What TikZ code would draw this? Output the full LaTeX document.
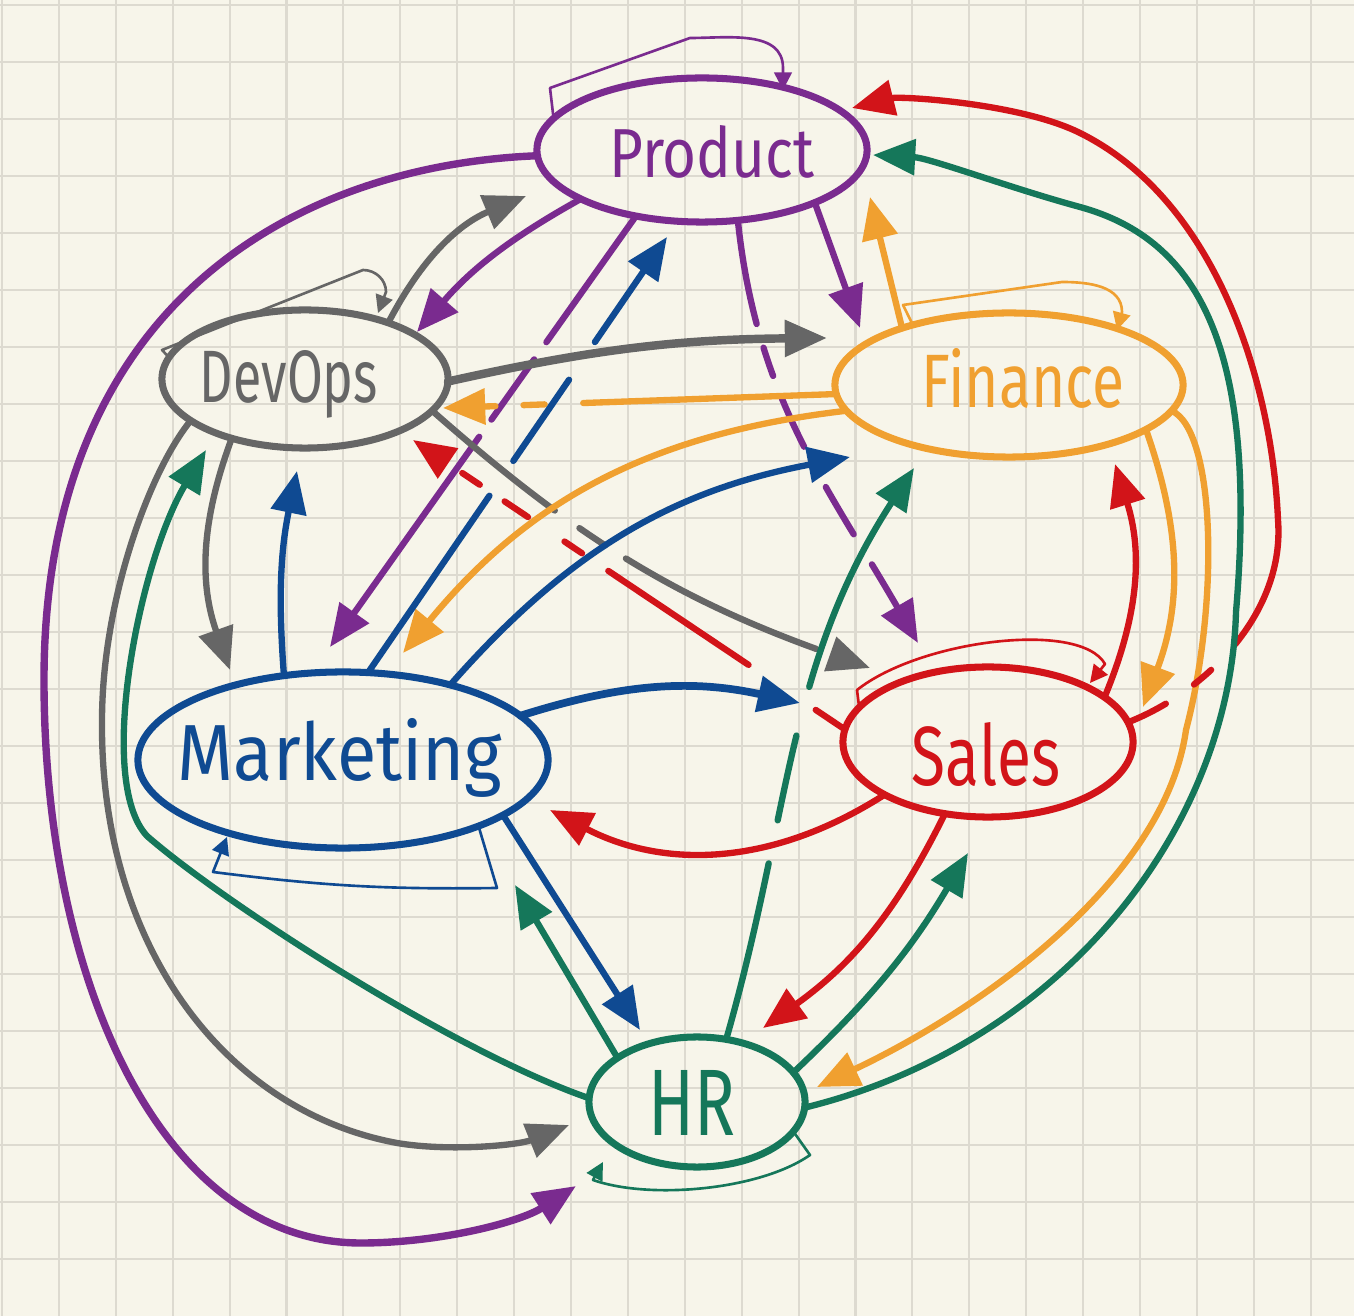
\documentclass[tikz,border=0pt]{standalone}
\usepackage{fontspec}
\setmainfont{Fira Sans}
\usepackage{graphicx}
\usetikzlibrary{arrows.meta,calc,shapes.geometric}
\definecolor{cpur}{HTML}{7A2B8F}
\definecolor{cgry}{HTML}{666666}
\definecolor{corg}{HTML}{F0A030}
\definecolor{cblu}{HTML}{0F4A92}
\definecolor{cred}{HTML}{D21419}
\definecolor{cgrn}{HTML}{15775A}
\definecolor{cbg}{HTML}{F7F5EA}
\definecolor{cgrid}{HTML}{DDDAD0}
\newcommand{\nodetext}[5]{\makebox[0pt]{\hspace*{#1}\raisebox{#2}[0pt][0pt]{\resizebox{#3}{#4}{#5}}}}
\tikzset{
  ent/.style={ellipse, draw=#1, line width=2pt, inner sep=0pt, outer sep=0pt, text=#1},
  edg/.style={draw=#1, line width=1.8pt, line cap=round, line join=round},
  selfln/.style={draw=#1, line width=0.75pt, line cap=round, line join=round},
  bigtip/.style={-{Triangle[length=12pt,width=10pt]}},
  smalltip/.style={-{Triangle[length=5pt,width=5pt]}},
  gridln/.style={draw=cgrid, line width=0.6pt}
}
\begin{document}
\begin{tikzpicture}[x=0.01cm,y=-0.01cm]
\useasboundingbox (0,0) rectangle (1354,1316);
\fill[cbg] (0,0) rectangle (1354,1316);
\foreach \i in {0,...,23} \draw[gridln] ({2+56.9*\i},0) -- ({2+56.9*\i},1316);
\foreach \j in {0,...,22} \draw[gridln] (0,{5+57*\j}) -- (1354,{5+57*\j});

% nodes
\node[ent=cpur, minimum width=3.30cm, minimum height=1.44cm] (P) at (702,150) {\nodetext{0.20cm}{-0.27cm}{2.05cm}{0.52cm}{Product}};
\node[ent=cgry, minimum width=2.86cm, minimum height=1.38cm] (D) at (305,379) {\nodetext{-0.32cm}{-0.23cm}{1.78cm}{0.52cm}{DevOps}};
\node[ent=corg, minimum width=3.48cm, minimum height=1.44cm] (F) at (1009,385) {\nodetext{0.28cm}{-0.22cm}{2.03cm}{0.59cm}{Finance}};
\node[ent=cblu, minimum width=4.10cm, minimum height=1.76cm] (M) at (343,760) {\nodetext{-0.06cm}{-0.20cm}{3.24cm}{0.62cm}{Marketing}};
\node[ent=cred, minimum width=2.90cm, minimum height=1.50cm] (S) at (988,742) {\nodetext{-0.04cm}{-0.43cm}{1.48cm}{0.63cm}{Sales}};
\node[ent=cgrn, minimum width=2.16cm, minimum height=1.30cm] (H) at (697,1102) {\nodetext{-0.10cm}{-0.33cm}{0.87cm}{0.65cm}{HR}};

% Product (purple)
\draw[edg=cpur, bigtip] (P.-158) to[bend right=10] ($(D)+(112,-47)$);
\draw[edg=cpur, bigtip, dash pattern=on 44pt off 6pt on 21pt off 6pt on 300pt] (P.-135.8) -- ($(M)+(-13,-113)$);
\draw[edg=cpur, bigtip] (P.-25.6) -- ($(F)+(-149,-57)$);
\draw[edg=cpur, bigtip, dash pattern=on 30pt off 7pt on 8.5pt off 7pt on 15pt off 13pt on 15.6pt off 10pt on 100pt] (P.-63.4) to[out=-84,in=120] ($(S)+(-70,-99)$);
\draw[edg=cpur, bigtip, line width=2.1pt] (P.182) .. controls (300,165) and (44,300) .. (44,680) .. controls (44,980) and (161,1243) .. (361,1243) .. controls (440,1243) and (520,1222) .. ($(H)+(-121,84)$);
\draw[selfln=cpur, smalltip] (P.168) -- (550,88) -- (690,38) to[out=0,in=90] (783,68) -- ($(P)+(81,-60)$);

% DevOps (gray)
\draw[edg=cgry, bigtip] (D.34.3) to[bend left=20] ($(P)+(-176,46)$);
\draw[edg=cgry, bigtip, line width=2.4pt] (D.-1) to[bend left=6] ($(F)+(-182,-47)$);
\draw[edg=cgry, bigtip, dash pattern=on 45pt off 8.6pt on 8.8pt off 7pt on 60pt off 7pt on 50pt] (D.-14.3) to[bend right=11] ($(S)+(-118,-74)$);
\draw[edg=cgry, bigtip] (D.-141.7) to[bend right=20] ($(M)+(-113,-90)$);
\draw[edg=cgry, bigtip] (D.200) .. controls (150,470) and (102,600) .. (102,721) .. controls (100,940) and (220,1110) .. (397,1143) .. controls (450,1152) and (519,1145) .. ($(H)+(-128,23)$);
\draw[selfln=cgry, smalltip] (D.171) -- (162,350) -- (363,270) to[out=0,in=90] (386,292) -- ($(D)+(73,-66)$);

% Finance (orange)
\draw[edg=corg, bigtip] (F.152.6) -- ($(P)+(168,47)$);
\draw[edg=corg, bigtip, dash pattern=on 72pt off 11pt on 6pt off 8pt on 40pt] (F.183.3) -- ($(D)+(138,29)$);
\draw[edg=corg, bigtip] (F.189.5) to[bend right=22] ($(M)+(60,-107)$);
\draw[edg=corg, bigtip] (F.-18.3) to[bend left=20] ($(S)+(155,-35)$);
\draw[edg=corg, bigtip] (F.-9.5) .. controls (1215,430) and (1220,600) .. (1186,730) .. controls (1165,880) and (980,1010) .. ($(H)+(120,-15)$);
\draw[selfln=corg, smalltip] (F.148) -- (903,305) -- (1062,282) to[out=0,in=90] (1122,312) -- ($(F)+(108,-55)$);

% Marketing (blue)
\draw[edg=cblu, bigtip] (M.125.2) to[bend left=8] ($(D)+(-8,92)$);
\draw[edg=cblu, bigtip, dash pattern=on 61pt off 12pt on 28pt off 13pt on 100pt] (M.74.7) -- ($(P)+(-35,87)$);
\draw[edg=cblu, bigtip] (M.35.8) to[bend left=19] ($(F)+(-159,72)$);
\draw[edg=cblu, bigtip, line width=2.2pt] (M.14.1) to[bend left=15] ($(S)+(-188,-39)$);
\draw[edg=cblu, bigtip] (M.-19.9) -- ($(H)+(-57,-72)$);
\draw[selfln=cblu, smalltip] (M.-26) -- (497,888) to[bend left=4] (213,872) -- ($(M)+(-116,77)$);

% Sales (red)
\draw[edg=cred, bigtip, dash pattern=on 12pt off 9.7pt on 6.4pt off 10pt on 400pt] (S.8) .. controls (1210,690) and (1285,610) .. (1278,520) .. controls (1272,380) and (1215,200) .. (1080,133) .. controls (1020,103) and (900,96) .. ($(P)+(150,-42)$);
\draw[edg=cred, bigtip] (S.21.8) to[bend right=20] ($(F)+(106,79)$);
\draw[edg=cred, bigtip, dash pattern=on 10pt off 23pt on 48pt off 9pt on 6pt off 12.5pt on 8pt off 8.5pt on 6pt off 30pt] (S.175) -- ($(D)+(108,61)$);
\draw[edg=cred, bigtip] (S.207) to[bend left=30] ($(M)+(207,50)$);
\draw[edg=cred, bigtip] (S.-121.2) to[bend left=14] ($(H)+(66,-74)$);
\draw[selfln=cred, smalltip] (S.165) -- (857,690) .. controls (920,640) and (1080,620) .. (1105,664) -- ($(S)+(102,-59)$);

% HR (green)
\draw[edg=cgrn, bigtip] (H.178) .. controls (450,1050) and (220,900) .. (147,836) .. controls (95,780) and (140,560) .. ($(D)+(-99,71)$);
\draw[edg=cgrn, bigtip] (H.151.8) -- ($(M)+(172,125)$);
\draw[edg=cgrn, bigtip, dash pattern=on 51.5pt off 12.5pt on 24.7pt off 14.3pt on 200pt] (H.65.2) to[out=74,in=237] ($(F)+(-95,83)$);
\draw[edg=cgrn, bigtip] (H.17.3) to[bend right=8] ($(S)+(-20,111)$);
\draw[edg=cgrn, bigtip] (H.-3.2) .. controls (1060,1045) and (1230,830) .. (1236,612) .. controls (1258,350) and (1200,240) .. (1080,207) .. controls (1010,188) and (930,158) .. ($(P)+(171,5)$);
\draw[selfln=cgrn, smalltip] (H.-17.6) -- (810,1155) .. controls (760,1190) and (650,1200) .. (593,1180) -- ($(H)+(-94,60)$);
\end{tikzpicture}
\end{document}
